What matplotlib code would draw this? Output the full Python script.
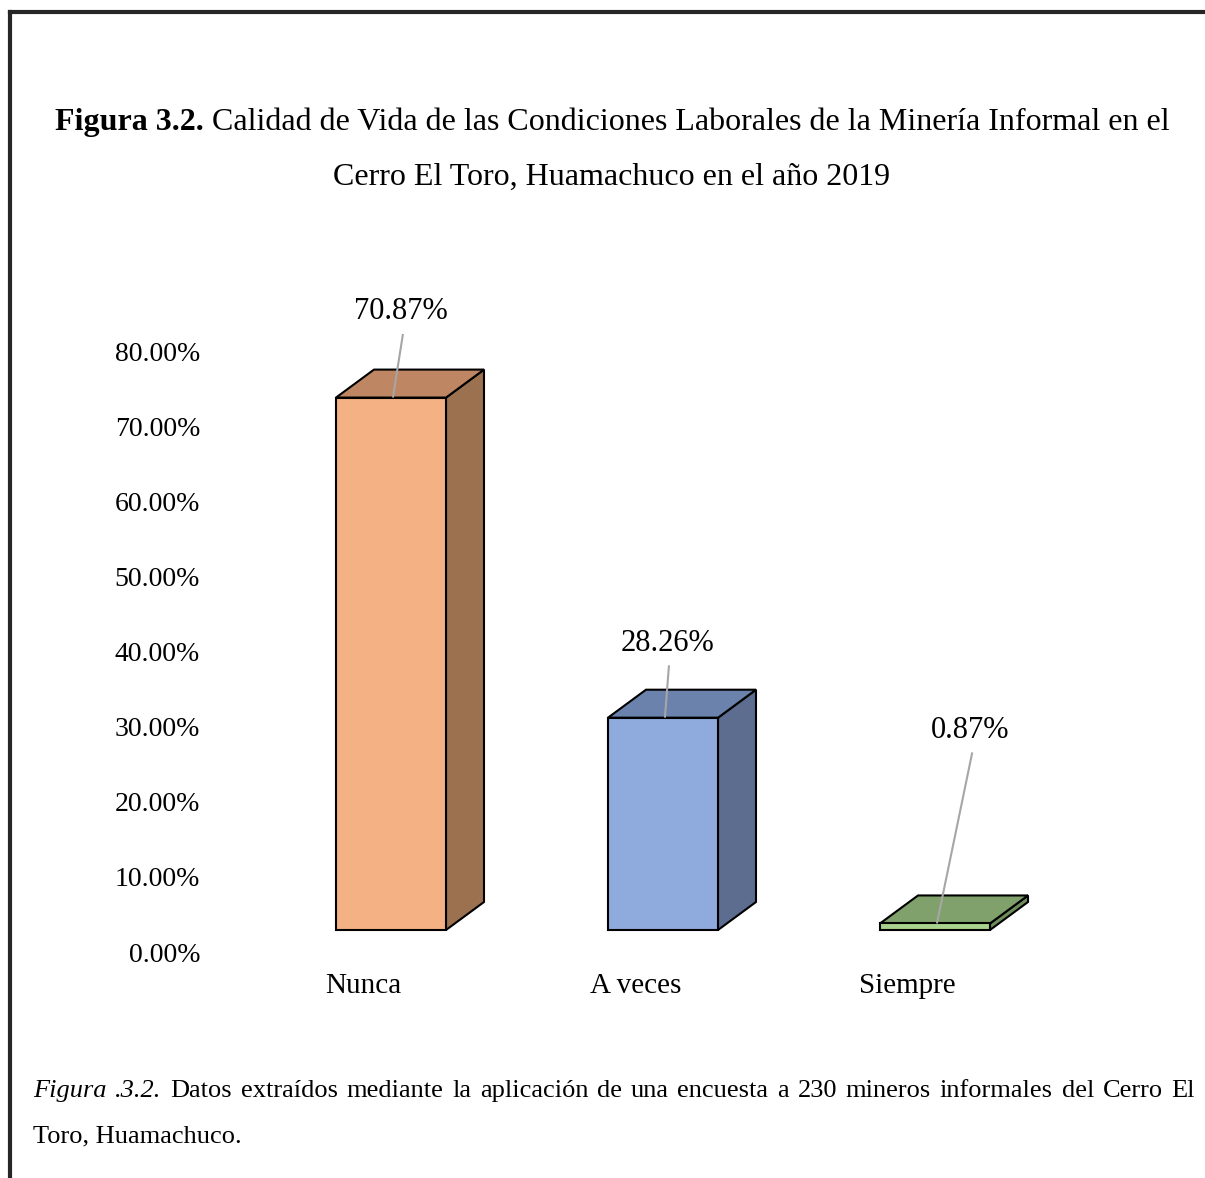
import matplotlib
matplotlib.use("Agg")
import matplotlib.pyplot as plt
from matplotlib.patches import Polygon
from matplotlib.lines import Line2D

# ── Datos ────────────────────────────────────────────────────────────────────
categorias = ["Nunca", "A veces", "Siempre"]
porcentajes = [70.87, 28.26, 0.87]
ticks_y = [0, 10, 20, 30, 40, 50, 60, 70, 80]
etiquetas_y = [f"{v:.2f}%" for v in ticks_y]

titulo_negrita = "Figura 3.2."
titulo_linea1 = "Calidad de Vida de las Condiciones Laborales de la Minería Informal en el"
titulo_linea2 = "Cerro El Toro, Huamachuco en el año 2019"
nota_cursiva = ["Figura", ".3.2."]
nota_linea1 = ("Datos extraídos mediante la aplicación de una encuesta a 230 "
               "mineros informales del Cerro El")
nota_linea2 = "Toro, Huamachuco."

# ── Estilo ───────────────────────────────────────────────────────────────────
colores_frente = ["#F4B183", "#8FAADC", "#A9D18E"]
colores_tapa = ["#BF8663", "#6B83AC", "#80A16B"]
colores_lado = ["#9B7150", "#5C6D90", "#6F8C5C"]

# desplazamiento manual de las etiquetas de datos (en unidades de datos)
etiq_dx = [0.037, 0.015, 0.13]
etiq_dy = [11.4, 9.9, 25.7]

plt.rcParams["font.family"] = ["Liberation Serif", "DejaVu Serif"]

W, H = 1205, 1178
fig = plt.figure(figsize=(W / 100, H / 100), dpi=100)


def fx(px):
    return px / W


def fy(py):
    return 1 - py / H


# escala: 1 categoría = 272 px, 10 % = 75.1 px
PX_X = 272.0
PX_Y = (952 - 351) / 80
ax = fig.add_axes([fx(391 - 0.6 * PX_X), fy(952 + 8 * PX_Y),
                   3.2 * PX_X / W, 98 * PX_Y / H])
ax.set_xlim(-0.6, 2.6)
ax.set_ylim(-8, 90)
for s in ax.spines.values():
    s.set_visible(False)
ax.set_xticks([])
ax.set_yticks(ticks_y, etiquetas_y)
ax.tick_params(axis="y", length=0, pad=20, labelsize=20)

# ── Barras pseudo-3D ─────────────────────────────────────────────────────────
ancho = 110 / PX_X
base = 22 / PX_Y
prof_x = 38 / PX_X
prof_y = 28 / PX_Y

for i, (cat, v) in enumerate(zip(categorias, porcentajes)):
    x1, x2 = i - ancho / 2, i + ancho / 2
    y1, y2 = base, base + v
    lado = [(x2, y1), (x2 + prof_x, y1 + prof_y), (x2 + prof_x, y2 + prof_y), (x2, y2)]
    tapa = [(x1, y2), (x2, y2), (x2 + prof_x, y2 + prof_y), (x1 + prof_x, y2 + prof_y)]
    frente = [(x1, y1), (x2, y1), (x2, y2), (x1, y2)]
    for pts, col in [(lado, colores_lado[i]), (tapa, colores_tapa[i]), (frente, colores_frente[i])]:
        ax.add_patch(Polygon(pts, closed=True, facecolor=col, edgecolor="black",
                             linewidth=1.5, joinstyle="miter", clip_on=False))

    # etiqueta y línea guía
    lx = i + etiq_dx[i]
    ly = y2 + etiq_dy[i]
    ax.text(lx, ly, f"{v:.2f}%", fontsize=22, ha="center", va="center")
    ax.plot([lx + 0.007, i + 0.007], [ly - 22 / PX_Y, y2], color="#A6A6A6",
            linewidth=1.5, solid_capstyle="butt", zorder=3)

    ax.text(i - 0.1, (952 - 986) / PX_Y, cat, fontsize=21, ha="center", va="center")

# ── Textos de la figura ──────────────────────────────────────────────────────
renderer = fig.canvas.get_renderer()


def ancho_px(t):
    return t.get_window_extent(renderer).width


# título, primera línea (negrita + normal) centrada
fs_tit = 23
t1 = fig.text(0, fy(130), titulo_negrita, fontsize=fs_tit, fontweight="bold", va="baseline")
t2 = fig.text(0, fy(130), titulo_linea1, fontsize=fs_tit, va="baseline")
esp = 0.25 * fs_tit * 100 / 72
total = ancho_px(t1) + esp + ancho_px(t2)
x_ini = 612 - total / 2
t1.set_x(fx(x_ini))
t2.set_x(fx(x_ini + ancho_px(t1) + esp))
fig.text(fx(612), fy(185), titulo_linea2, fontsize=fs_tit, ha="center", va="baseline")

# nota al pie, primera línea justificada
fs_nota = 19
palabras = [(p, "italic") for p in nota_cursiva] + [(p, "normal") for p in nota_linea1.split()]
objs = [fig.text(0, fy(1097), p, fontsize=fs_nota, fontstyle=st, va="baseline")
        for p, st in palabras]
anchos = [ancho_px(o) for o in objs]
hueco = (1195 - 33 - sum(anchos)) / (len(objs) - 1)
x = 33
for o, w in zip(objs, anchos):
    o.set_x(fx(x))
    x += w + hueco
fig.text(fx(33), fy(1142), nota_linea2, fontsize=fs_nota, va="baseline")

# marco
fig.add_artist(Line2D([fx(10), fx(1205)], [fy(12), fy(12)], color="#262626",
                      linewidth=3, solid_capstyle="projecting"))
fig.add_artist(Line2D([fx(10), fx(10)], [fy(12), fy(1178)], color="#262626",
                      linewidth=3, solid_capstyle="projecting"))

fig.savefig("out.png", dpi=100)
